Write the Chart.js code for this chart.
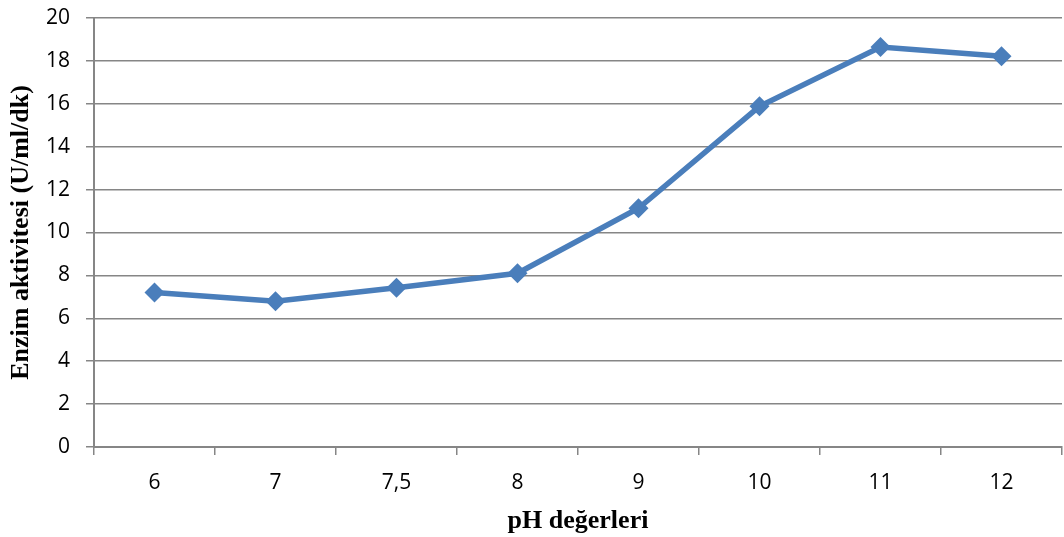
<!DOCTYPE html>
<html>
<head>
<meta charset="utf-8">
<script src="https://cdn.jsdelivr.net/npm/chart.js@4"></script>
<style>
  html, body { margin: 0; padding: 0; background: #fff; }
  #wrap { width: 1064px; height: 537px; }
</style>
</head>
<body>
<div id="wrap"><canvas id="phChart" width="1064" height="537"></canvas></div>
<script>
// pH değerleri ve enzim aktivitesi
const phLabels = ["6", "7", "7,5", "8", "9", "10", "11", "12"];
const activity = [7.2, 6.8, 7.42, 8.1, 11.13, 15.88, 18.65, 18.22];
const yTicks = [0, 2, 4, 6, 8, 10, 12, 14, 16, 18, 20];

const blue = "#4A7EBB";
const gridGray = "#868686";
const tickFont = { family: "'Open Sans', 'Noto Sans', sans-serif", size: 21 };
const titleFont = { family: "'Liberation Serif', 'DejaVu Serif', serif", size: 26, weight: "bold" };

// le graphique doit aller jusqu'au bord droit (comme dans Excel)
const fillRight = {
    id: "fillRight",
    afterLayout(chart) {
        const right = chart.width - 2;
        chart.chartArea.right = right;
        chart.chartArea.width = right - chart.chartArea.left;
        const x = chart.scales.x;
        x.right = right;
        x.width = right - x.left;
        x.configure();
    }
};

new Chart(document.getElementById("phChart"), {
    type: "line",
    data: {
        labels: phLabels,
        datasets: [{
            data: activity,
            borderColor: blue,
            backgroundColor: blue,
            borderWidth: 5.5,
            pointStyle: "rectRot",
            pointRadius: 10,
            pointHoverRadius: 10,
            pointBorderWidth: 0,
            tension: 0
        }]
    },
    plugins: [fillRight],
    options: {
        responsive: false,
        animation: false,
        layout: { padding: { top: 18, right: 2, left: 0, bottom: 0 } },
        plugins: { legend: { display: false }, tooltip: { enabled: false } },
        scales: {
            x: {
                offset: true,
                grid: {
                    offset: true,
                    drawOnChartArea: false,
                    drawTicks: true,
                    tickLength: 8,
                    color: gridGray,
                    lineWidth: 1.5
                },
                border: { color: gridGray, width: 2 },
                ticks: { color: "#000", font: tickFont, padding: 15, maxRotation: 0 },
                title: { display: true, text: "pH değerleri", color: "#000", font: titleFont, padding: { top: 2, bottom: 0 } },
                afterFit: s => { s.height = 90; s.paddingLeft = 0; s.paddingRight = 0; }
            },
            y: {
                min: 0,
                max: 20,
                afterBuildTicks: s => { s.ticks = yTicks.map(v => ({ value: v })); },
                grid: { color: gridGray, lineWidth: 1.5, tickLength: 8 },
                border: { color: gridGray, width: 2 },
                ticks: { color: "#000", font: tickFont, padding: 16 },
                title: { display: true, text: "Enzim aktivitesi (U/ml/dk)", color: "#000", font: titleFont, padding: { top: 6, bottom: 0 } },
                afterFit: s => { s.width = 94; s.paddingTop = 0; s.paddingBottom = 0; }
            }
        }
    }
});
</script>
</body>
</html>
